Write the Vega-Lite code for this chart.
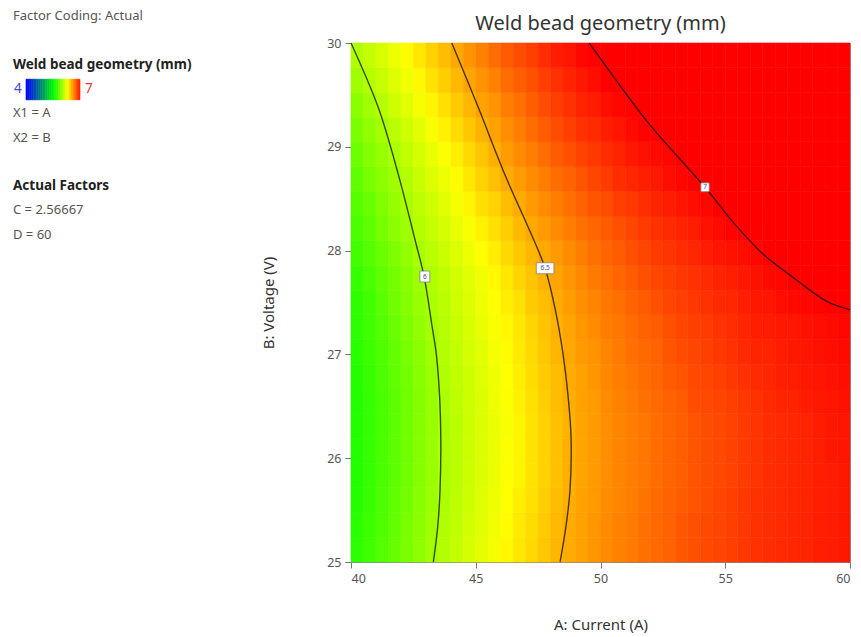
{
  "$schema": "https://vega.github.io/schema/vega-lite/v6.json",
  "padding": {"left": 0, "top": 10, "right": 0, "bottom": 0},
  "spacing": 0,
  "config": {
    "font": "Noto Sans",
    "title": {"font": "Noto Sans"},
    "axis": {"labelFont": "Noto Sans", "titleFont": "Noto Sans", "labelColor": "#555555", "labelFontSize": 12.5, "titleColor": "#333333", "titleFontSize": 15, "titleFontWeight": "normal", "tickColor": "#777777", "domainColor": "#888888", "tickSize": 6, "grid": false}
  },
  "hconcat": [
    {
      "width": 261,
      "height": 519,
      "view": {"stroke": null},
      "layer": [
        {
          "data": {"values": [
            {"v":4.0,"v2":4.1},{"v":4.1,"v2":4.2},{"v":4.2,"v2":4.3},{"v":4.3,"v2":4.4},{"v":4.4,"v2":4.5},{"v":4.5,"v2":4.6},{"v":4.6,"v2":4.7},{"v":4.7,"v2":4.8},{"v":4.8,"v2":4.9},{"v":4.9,"v2":5.0},
            {"v":5.0,"v2":5.1},{"v":5.1,"v2":5.2},{"v":5.2,"v2":5.3},{"v":5.3,"v2":5.4},{"v":5.4,"v2":5.5},{"v":5.5,"v2":5.6},{"v":5.6,"v2":5.7},{"v":5.7,"v2":5.8},{"v":5.8,"v2":5.9},{"v":5.9,"v2":6.0},
            {"v":6.0,"v2":6.1},{"v":6.1,"v2":6.2},{"v":6.2,"v2":6.3},{"v":6.3,"v2":6.4},{"v":6.4,"v2":6.5},{"v":6.5,"v2":6.6},{"v":6.6,"v2":6.7},{"v":6.7,"v2":6.8},{"v":6.8,"v2":6.9},{"v":6.9,"v2":7.0}
          ]},
          "mark": {"type": "rect", "strokeWidth": 0.6},
          "encoding": {
            "x": {"field": "v", "type": "quantitative", "scale": {"domain": [2.5556, 17.0556], "nice": false, "zero": false}, "axis": null},
            "x2": {"field": "v2"},
            "y": {"datum": 2.6, "type": "quantitative", "scale": {"domain": [1.1111, 22.4691], "reverse": true, "nice": false, "zero": false}, "axis": null},
            "y2": {"datum": 3.45},
            "color": {"field": "v", "type": "quantitative", "scale": {"type": "linear", "domain": [4, 5.5, 6.27, 7], "range": ["#0000ff", "#00ff00", "#ffff00", "#ff0000"], "interpolate": "rgb", "clamp": true}, "legend": null},
            "stroke": {"field": "v", "type": "quantitative", "scale": {"type": "linear", "domain": [4, 5.5, 6.27, 7], "range": ["#0000ff", "#00ff00", "#ffff00", "#ff0000"], "interpolate": "rgb", "clamp": true}, "legend": null}
          }
        },
        {
          "data": {"values": [
            {"line": 0, "col": 1.3, "text": "Factor Coding: Actual", "kind": "plain"},
            {"line": 2, "col": 1.3, "text": "Weld bead geometry (mm)", "kind": "bold"},
            {"line": 3, "col": 1.4, "text": "4", "kind": "low"},
            {"line": 3, "col": 8.5, "text": "7", "kind": "high"},
            {"line": 4, "col": 1.3, "text": "X1 = A", "kind": "plain"},
            {"line": 5, "col": 1.3, "text": "X2 = B", "kind": "plain"},
            {"line": 7, "col": 1.3, "text": "Actual Factors", "kind": "bold"},
            {"line": 8, "col": 1.3, "text": "C = 2.56667", "kind": "plain"},
            {"line": 9, "col": 1.3, "text": "D = 60", "kind": "plain"}
          ]},
          "encoding": {
            "x": {"field": "col", "type": "quantitative", "scale": {"domain": [0, 26.1], "nice": false, "zero": false}, "axis": null},
            "y": {"field": "line", "type": "quantitative", "scale": {"domain": [1.1111, 22.4691], "reverse": true, "nice": false, "zero": false}, "axis": null},
            "text": {"field": "text"}
          },
          "layer": [
            {"transform": [{"filter": "datum.kind == 'plain'"}], "mark": {"type": "text", "align": "left", "baseline": "middle", "fontSize": 13, "color": "#555555"}},
            {"transform": [{"filter": "datum.kind == 'bold'"}], "mark": {"type": "text", "align": "left", "baseline": "middle", "fontSize": 13.5, "fontWeight": "bold", "color": "#222222"}},
            {"transform": [{"filter": "datum.kind == 'low'"}], "mark": {"type": "text", "align": "left", "baseline": "middle", "fontSize": 13.5, "color": "#4848d0"}},
            {"transform": [{"filter": "datum.kind == 'high'"}], "mark": {"type": "text", "align": "left", "baseline": "middle", "fontSize": 13.5, "color": "#e03a3a"}}
          ]
        }
      ],
      "resolve": {"scale": {"x": "independent"}}
    },
    {
      "width": 499,
      "height": 519,
      "view": {"stroke": "#999999"},
      "title": {"text": "Weld bead geometry (mm)", "fontSize": 20, "fontWeight": "normal", "color": "#333333", "offset": 3, "anchor": "middle"},
      "layer": [
        {
          "data": {"values": [
{"a":40.25,"b":25,"v":5.63},{"a":40.75,"b":25,"v":5.69},{"a":41.25,"b":25,"v":5.75},{"a":41.75,"b":25,"v":5.81},{"a":42.25,"b":25,"v":5.87},{"a":42.75,"b":25,"v":5.93},{"a":43.25,"b":25,"v":5.99},{"a":43.75,"b":25,"v":6.04},{"a":44.25,"b":25,"v":6.09},{"a":44.75,"b":25,"v":6.14},{"a":45.25,"b":25,"v":6.19},{"a":45.75,"b":25,"v":6.24},{"a":46.25,"b":25,"v":6.29},{"a":46.75,"b":25,"v":6.34},{"a":47.25,"b":25,"v":6.38},{"a":47.75,"b":25,"v":6.43},{"a":48.25,"b":25,"v":6.48},{"a":48.75,"b":25,"v":6.51},{"a":49.25,"b":25,"v":6.54},{"a":49.75,"b":25,"v":6.57},{"a":50.25,"b":25,"v":6.60},{"a":50.75,"b":25,"v":6.63},{"a":51.25,"b":25,"v":6.65},{"a":51.75,"b":25,"v":6.68},{"a":52.25,"b":25,"v":6.70},{"a":52.75,"b":25,"v":6.72},{"a":53.25,"b":25,"v":6.75},{"a":53.75,"b":25,"v":6.77},{"a":54.25,"b":25,"v":6.79},{"a":54.75,"b":25,"v":6.80},{"a":55.25,"b":25,"v":6.82},{"a":55.75,"b":25,"v":6.84},{"a":56.25,"b":25,"v":6.86},{"a":56.75,"b":25,"v":6.87},{"a":57.25,"b":25,"v":6.88},{"a":57.75,"b":25,"v":6.89},{"a":58.25,"b":25,"v":6.90},{"a":58.75,"b":25,"v":6.91},{"a":59.25,"b":25,"v":6.92},{"a":59.75,"b":25,"v":6.93},
{"a":40.25,"b":25.25,"v":5.62},{"a":40.75,"b":25.25,"v":5.68},{"a":41.25,"b":25.25,"v":5.74},{"a":41.75,"b":25.25,"v":5.80},{"a":42.25,"b":25.25,"v":5.86},{"a":42.75,"b":25.25,"v":5.92},{"a":43.25,"b":25.25,"v":5.98},{"a":43.75,"b":25.25,"v":6.03},{"a":44.25,"b":25.25,"v":6.08},{"a":44.75,"b":25.25,"v":6.13},{"a":45.25,"b":25.25,"v":6.18},{"a":45.75,"b":25.25,"v":6.23},{"a":46.25,"b":25.25,"v":6.28},{"a":46.75,"b":25.25,"v":6.33},{"a":47.25,"b":25.25,"v":6.37},{"a":47.75,"b":25.25,"v":6.42},{"a":48.25,"b":25.25,"v":6.47},{"a":48.75,"b":25.25,"v":6.51},{"a":49.25,"b":25.25,"v":6.54},{"a":49.75,"b":25.25,"v":6.57},{"a":50.25,"b":25.25,"v":6.60},{"a":50.75,"b":25.25,"v":6.63},{"a":51.25,"b":25.25,"v":6.65},{"a":51.75,"b":25.25,"v":6.68},{"a":52.25,"b":25.25,"v":6.70},{"a":52.75,"b":25.25,"v":6.72},{"a":53.25,"b":25.25,"v":6.75},{"a":53.75,"b":25.25,"v":6.77},{"a":54.25,"b":25.25,"v":6.79},{"a":54.75,"b":25.25,"v":6.80},{"a":55.25,"b":25.25,"v":6.82},{"a":55.75,"b":25.25,"v":6.84},{"a":56.25,"b":25.25,"v":6.86},{"a":56.75,"b":25.25,"v":6.87},{"a":57.25,"b":25.25,"v":6.88},{"a":57.75,"b":25.25,"v":6.89},{"a":58.25,"b":25.25,"v":6.90},{"a":58.75,"b":25.25,"v":6.91},{"a":59.25,"b":25.25,"v":6.92},{"a":59.75,"b":25.25,"v":6.93},
{"a":40.25,"b":25.5,"v":5.61},{"a":40.75,"b":25.5,"v":5.67},{"a":41.25,"b":25.5,"v":5.73},{"a":41.75,"b":25.5,"v":5.79},{"a":42.25,"b":25.5,"v":5.85},{"a":42.75,"b":25.5,"v":5.91},{"a":43.25,"b":25.5,"v":5.97},{"a":43.75,"b":25.5,"v":6.02},{"a":44.25,"b":25.5,"v":6.07},{"a":44.75,"b":25.5,"v":6.12},{"a":45.25,"b":25.5,"v":6.17},{"a":45.75,"b":25.5,"v":6.22},{"a":46.25,"b":25.5,"v":6.27},{"a":46.75,"b":25.5,"v":6.32},{"a":47.25,"b":25.5,"v":6.36},{"a":47.75,"b":25.5,"v":6.41},{"a":48.25,"b":25.5,"v":6.46},{"a":48.75,"b":25.5,"v":6.50},{"a":49.25,"b":25.5,"v":6.54},{"a":49.75,"b":25.5,"v":6.56},{"a":50.25,"b":25.5,"v":6.60},{"a":50.75,"b":25.5,"v":6.62},{"a":51.25,"b":25.5,"v":6.64},{"a":51.75,"b":25.5,"v":6.67},{"a":52.25,"b":25.5,"v":6.70},{"a":52.75,"b":25.5,"v":6.72},{"a":53.25,"b":25.5,"v":6.74},{"a":53.75,"b":25.5,"v":6.76},{"a":54.25,"b":25.5,"v":6.78},{"a":54.75,"b":25.5,"v":6.80},{"a":55.25,"b":25.5,"v":6.82},{"a":55.75,"b":25.5,"v":6.84},{"a":56.25,"b":25.5,"v":6.86},{"a":56.75,"b":25.5,"v":6.87},{"a":57.25,"b":25.5,"v":6.88},{"a":57.75,"b":25.5,"v":6.89},{"a":58.25,"b":25.5,"v":6.90},{"a":58.75,"b":25.5,"v":6.91},{"a":59.25,"b":25.5,"v":6.92},{"a":59.75,"b":25.5,"v":6.93},
{"a":40.25,"b":25.75,"v":5.60},{"a":40.75,"b":25.75,"v":5.66},{"a":41.25,"b":25.75,"v":5.72},{"a":41.75,"b":25.75,"v":5.78},{"a":42.25,"b":25.75,"v":5.84},{"a":42.75,"b":25.75,"v":5.90},{"a":43.25,"b":25.75,"v":5.96},{"a":43.75,"b":25.75,"v":6.02},{"a":44.25,"b":25.75,"v":6.06},{"a":44.75,"b":25.75,"v":6.11},{"a":45.25,"b":25.75,"v":6.16},{"a":45.75,"b":25.75,"v":6.21},{"a":46.25,"b":25.75,"v":6.26},{"a":46.75,"b":25.75,"v":6.30},{"a":47.25,"b":25.75,"v":6.35},{"a":47.75,"b":25.75,"v":6.40},{"a":48.25,"b":25.75,"v":6.45},{"a":48.75,"b":25.75,"v":6.50},{"a":49.25,"b":25.75,"v":6.53},{"a":49.75,"b":25.75,"v":6.56},{"a":50.25,"b":25.75,"v":6.59},{"a":50.75,"b":25.75,"v":6.62},{"a":51.25,"b":25.75,"v":6.64},{"a":51.75,"b":25.75,"v":6.66},{"a":52.25,"b":25.75,"v":6.69},{"a":52.75,"b":25.75,"v":6.71},{"a":53.25,"b":25.75,"v":6.73},{"a":53.75,"b":25.75,"v":6.76},{"a":54.25,"b":25.75,"v":6.78},{"a":54.75,"b":25.75,"v":6.79},{"a":55.25,"b":25.75,"v":6.81},{"a":55.75,"b":25.75,"v":6.83},{"a":56.25,"b":25.75,"v":6.85},{"a":56.75,"b":25.75,"v":6.87},{"a":57.25,"b":25.75,"v":6.88},{"a":57.75,"b":25.75,"v":6.89},{"a":58.25,"b":25.75,"v":6.90},{"a":58.75,"b":25.75,"v":6.91},{"a":59.25,"b":25.75,"v":6.92},{"a":59.75,"b":25.75,"v":6.93},
{"a":40.25,"b":26,"v":5.60},{"a":40.75,"b":26,"v":5.66},{"a":41.25,"b":26,"v":5.72},{"a":41.75,"b":26,"v":5.78},{"a":42.25,"b":26,"v":5.84},{"a":42.75,"b":26,"v":5.90},{"a":43.25,"b":26,"v":5.96},{"a":43.75,"b":26,"v":6.02},{"a":44.25,"b":26,"v":6.06},{"a":44.75,"b":26,"v":6.11},{"a":45.25,"b":26,"v":6.16},{"a":45.75,"b":26,"v":6.21},{"a":46.25,"b":26,"v":6.26},{"a":46.75,"b":26,"v":6.30},{"a":47.25,"b":26,"v":6.35},{"a":47.75,"b":26,"v":6.40},{"a":48.25,"b":26,"v":6.45},{"a":48.75,"b":26,"v":6.50},{"a":49.25,"b":26,"v":6.53},{"a":49.75,"b":26,"v":6.56},{"a":50.25,"b":26,"v":6.59},{"a":50.75,"b":26,"v":6.62},{"a":51.25,"b":26,"v":6.64},{"a":51.75,"b":26,"v":6.66},{"a":52.25,"b":26,"v":6.69},{"a":52.75,"b":26,"v":6.71},{"a":53.25,"b":26,"v":6.73},{"a":53.75,"b":26,"v":6.76},{"a":54.25,"b":26,"v":6.78},{"a":54.75,"b":26,"v":6.79},{"a":55.25,"b":26,"v":6.81},{"a":55.75,"b":26,"v":6.83},{"a":56.25,"b":26,"v":6.85},{"a":56.75,"b":26,"v":6.87},{"a":57.25,"b":26,"v":6.88},{"a":57.75,"b":26,"v":6.89},{"a":58.25,"b":26,"v":6.90},{"a":58.75,"b":26,"v":6.91},{"a":59.25,"b":26,"v":6.93},{"a":59.75,"b":26,"v":6.94},
{"a":40.25,"b":26.25,"v":5.60},{"a":40.75,"b":26.25,"v":5.66},{"a":41.25,"b":26.25,"v":5.72},{"a":41.75,"b":26.25,"v":5.78},{"a":42.25,"b":26.25,"v":5.84},{"a":42.75,"b":26.25,"v":5.90},{"a":43.25,"b":26.25,"v":5.96},{"a":43.75,"b":26.25,"v":6.01},{"a":44.25,"b":26.25,"v":6.06},{"a":44.75,"b":26.25,"v":6.11},{"a":45.25,"b":26.25,"v":6.16},{"a":45.75,"b":26.25,"v":6.21},{"a":46.25,"b":26.25,"v":6.25},{"a":46.75,"b":26.25,"v":6.30},{"a":47.25,"b":26.25,"v":6.35},{"a":47.75,"b":26.25,"v":6.40},{"a":48.25,"b":26.25,"v":6.45},{"a":48.75,"b":26.25,"v":6.49},{"a":49.25,"b":26.25,"v":6.53},{"a":49.75,"b":26.25,"v":6.56},{"a":50.25,"b":26.25,"v":6.59},{"a":50.75,"b":26.25,"v":6.62},{"a":51.25,"b":26.25,"v":6.64},{"a":51.75,"b":26.25,"v":6.66},{"a":52.25,"b":26.25,"v":6.69},{"a":52.75,"b":26.25,"v":6.71},{"a":53.25,"b":26.25,"v":6.73},{"a":53.75,"b":26.25,"v":6.76},{"a":54.25,"b":26.25,"v":6.78},{"a":54.75,"b":26.25,"v":6.79},{"a":55.25,"b":26.25,"v":6.81},{"a":55.75,"b":26.25,"v":6.83},{"a":56.25,"b":26.25,"v":6.85},{"a":56.75,"b":26.25,"v":6.87},{"a":57.25,"b":26.25,"v":6.88},{"a":57.75,"b":26.25,"v":6.89},{"a":58.25,"b":26.25,"v":6.90},{"a":58.75,"b":26.25,"v":6.92},{"a":59.25,"b":26.25,"v":6.93},{"a":59.75,"b":26.25,"v":6.94},
{"a":40.25,"b":26.5,"v":5.60},{"a":40.75,"b":26.5,"v":5.66},{"a":41.25,"b":26.5,"v":5.72},{"a":41.75,"b":26.5,"v":5.78},{"a":42.25,"b":26.5,"v":5.84},{"a":42.75,"b":26.5,"v":5.90},{"a":43.25,"b":26.5,"v":5.96},{"a":43.75,"b":26.5,"v":6.02},{"a":44.25,"b":26.5,"v":6.07},{"a":44.75,"b":26.5,"v":6.12},{"a":45.25,"b":26.5,"v":6.16},{"a":45.75,"b":26.5,"v":6.22},{"a":46.25,"b":26.5,"v":6.26},{"a":46.75,"b":26.5,"v":6.31},{"a":47.25,"b":26.5,"v":6.36},{"a":47.75,"b":26.5,"v":6.41},{"a":48.25,"b":26.5,"v":6.46},{"a":48.75,"b":26.5,"v":6.50},{"a":49.25,"b":26.5,"v":6.54},{"a":49.75,"b":26.5,"v":6.56},{"a":50.25,"b":26.5,"v":6.60},{"a":50.75,"b":26.5,"v":6.63},{"a":51.25,"b":26.5,"v":6.65},{"a":51.75,"b":26.5,"v":6.68},{"a":52.25,"b":26.5,"v":6.70},{"a":52.75,"b":26.5,"v":6.72},{"a":53.25,"b":26.5,"v":6.74},{"a":53.75,"b":26.5,"v":6.78},{"a":54.25,"b":26.5,"v":6.79},{"a":54.75,"b":26.5,"v":6.80},{"a":55.25,"b":26.5,"v":6.82},{"a":55.75,"b":26.5,"v":6.84},{"a":56.25,"b":26.5,"v":6.86},{"a":56.75,"b":26.5,"v":6.88},{"a":57.25,"b":26.5,"v":6.90},{"a":57.75,"b":26.5,"v":6.90},{"a":58.25,"b":26.5,"v":6.92},{"a":58.75,"b":26.5,"v":6.93},{"a":59.25,"b":26.5,"v":6.94},{"a":59.75,"b":26.5,"v":6.95},
{"a":40.25,"b":26.75,"v":5.61},{"a":40.75,"b":26.75,"v":5.67},{"a":41.25,"b":26.75,"v":5.73},{"a":41.75,"b":26.75,"v":5.79},{"a":42.25,"b":26.75,"v":5.85},{"a":42.75,"b":26.75,"v":5.91},{"a":43.25,"b":26.75,"v":5.97},{"a":43.75,"b":26.75,"v":6.03},{"a":44.25,"b":26.75,"v":6.08},{"a":44.75,"b":26.75,"v":6.12},{"a":45.25,"b":26.75,"v":6.17},{"a":45.75,"b":26.75,"v":6.22},{"a":46.25,"b":26.75,"v":6.27},{"a":46.75,"b":26.75,"v":6.32},{"a":47.25,"b":26.75,"v":6.37},{"a":47.75,"b":26.75,"v":6.42},{"a":48.25,"b":26.75,"v":6.46},{"a":48.75,"b":26.75,"v":6.51},{"a":49.25,"b":26.75,"v":6.54},{"a":49.75,"b":26.75,"v":6.57},{"a":50.25,"b":26.75,"v":6.61},{"a":50.75,"b":26.75,"v":6.64},{"a":51.25,"b":26.75,"v":6.66},{"a":51.75,"b":26.75,"v":6.69},{"a":52.25,"b":26.75,"v":6.71},{"a":52.75,"b":26.75,"v":6.74},{"a":53.25,"b":26.75,"v":6.76},{"a":53.75,"b":26.75,"v":6.79},{"a":54.25,"b":26.75,"v":6.80},{"a":54.75,"b":26.75,"v":6.82},{"a":55.25,"b":26.75,"v":6.84},{"a":55.75,"b":26.75,"v":6.86},{"a":56.25,"b":26.75,"v":6.88},{"a":56.75,"b":26.75,"v":6.89},{"a":57.25,"b":26.75,"v":6.91},{"a":57.75,"b":26.75,"v":6.92},{"a":58.25,"b":26.75,"v":6.93},{"a":58.75,"b":26.75,"v":6.94},{"a":59.25,"b":26.75,"v":6.95},{"a":59.75,"b":26.75,"v":6.96},
{"a":40.25,"b":27,"v":5.62},{"a":40.75,"b":27,"v":5.68},{"a":41.25,"b":27,"v":5.74},{"a":41.75,"b":27,"v":5.80},{"a":42.25,"b":27,"v":5.86},{"a":42.75,"b":27,"v":5.92},{"a":43.25,"b":27,"v":5.98},{"a":43.75,"b":27,"v":6.04},{"a":44.25,"b":27,"v":6.09},{"a":44.75,"b":27,"v":6.14},{"a":45.25,"b":27,"v":6.18},{"a":45.75,"b":27,"v":6.24},{"a":46.25,"b":27,"v":6.28},{"a":46.75,"b":27,"v":6.33},{"a":47.25,"b":27,"v":6.38},{"a":47.75,"b":27,"v":6.43},{"a":48.25,"b":27,"v":6.48},{"a":48.75,"b":27,"v":6.52},{"a":49.25,"b":27,"v":6.56},{"a":49.75,"b":27,"v":6.58},{"a":50.25,"b":27,"v":6.62},{"a":50.75,"b":27,"v":6.65},{"a":51.25,"b":27,"v":6.68},{"a":51.75,"b":27,"v":6.70},{"a":52.25,"b":27,"v":6.72},{"a":52.75,"b":27,"v":6.76},{"a":53.25,"b":27,"v":6.78},{"a":53.75,"b":27,"v":6.80},{"a":54.25,"b":27,"v":6.82},{"a":54.75,"b":27,"v":6.84},{"a":55.25,"b":27,"v":6.86},{"a":55.75,"b":27,"v":6.88},{"a":56.25,"b":27,"v":6.90},{"a":56.75,"b":27,"v":6.90},{"a":57.25,"b":27,"v":6.92},{"a":57.75,"b":27,"v":6.93},{"a":58.25,"b":27,"v":6.94},{"a":58.75,"b":27,"v":6.95},{"a":59.25,"b":27,"v":6.96},{"a":59.75,"b":27,"v":6.97},
{"a":40.25,"b":27.25,"v":5.63},{"a":40.75,"b":27.25,"v":5.69},{"a":41.25,"b":27.25,"v":5.75},{"a":41.75,"b":27.25,"v":5.82},{"a":42.25,"b":27.25,"v":5.88},{"a":42.75,"b":27.25,"v":5.94},{"a":43.25,"b":27.25,"v":6.00},{"a":43.75,"b":27.25,"v":6.05},{"a":44.25,"b":27.25,"v":6.10},{"a":44.75,"b":27.25,"v":6.15},{"a":45.25,"b":27.25,"v":6.20},{"a":45.75,"b":27.25,"v":6.25},{"a":46.25,"b":27.25,"v":6.29},{"a":46.75,"b":27.25,"v":6.34},{"a":47.25,"b":27.25,"v":6.39},{"a":47.75,"b":27.25,"v":6.44},{"a":48.25,"b":27.25,"v":6.49},{"a":48.75,"b":27.25,"v":6.53},{"a":49.25,"b":27.25,"v":6.57},{"a":49.75,"b":27.25,"v":6.60},{"a":50.25,"b":27.25,"v":6.64},{"a":50.75,"b":27.25,"v":6.66},{"a":51.25,"b":27.25,"v":6.69},{"a":51.75,"b":27.25,"v":6.72},{"a":52.25,"b":27.25,"v":6.74},{"a":52.75,"b":27.25,"v":6.77},{"a":53.25,"b":27.25,"v":6.80},{"a":53.75,"b":27.25,"v":6.82},{"a":54.25,"b":27.25,"v":6.83},{"a":54.75,"b":27.25,"v":6.85},{"a":55.25,"b":27.25,"v":6.87},{"a":55.75,"b":27.25,"v":6.89},{"a":56.25,"b":27.25,"v":6.91},{"a":56.75,"b":27.25,"v":6.92},{"a":57.25,"b":27.25,"v":6.93},{"a":57.75,"b":27.25,"v":6.94},{"a":58.25,"b":27.25,"v":6.95},{"a":58.75,"b":27.25,"v":6.96},{"a":59.25,"b":27.25,"v":6.97},{"a":59.75,"b":27.25,"v":6.98},
{"a":40.25,"b":27.5,"v":5.64},{"a":40.75,"b":27.5,"v":5.70},{"a":41.25,"b":27.5,"v":5.77},{"a":41.75,"b":27.5,"v":5.84},{"a":42.25,"b":27.5,"v":5.90},{"a":42.75,"b":27.5,"v":5.96},{"a":43.25,"b":27.5,"v":6.02},{"a":43.75,"b":27.5,"v":6.06},{"a":44.25,"b":27.5,"v":6.12},{"a":44.75,"b":27.5,"v":6.16},{"a":45.25,"b":27.5,"v":6.22},{"a":45.75,"b":27.5,"v":6.27},{"a":46.25,"b":27.5,"v":6.32},{"a":46.75,"b":27.5,"v":6.36},{"a":47.25,"b":27.5,"v":6.42},{"a":47.75,"b":27.5,"v":6.46},{"a":48.25,"b":27.5,"v":6.51},{"a":48.75,"b":27.5,"v":6.55},{"a":49.25,"b":27.5,"v":6.59},{"a":49.75,"b":27.5,"v":6.62},{"a":50.25,"b":27.5,"v":6.66},{"a":50.75,"b":27.5,"v":6.68},{"a":51.25,"b":27.5,"v":6.72},{"a":51.75,"b":27.5,"v":6.74},{"a":52.25,"b":27.5,"v":6.77},{"a":52.75,"b":27.5,"v":6.80},{"a":53.25,"b":27.5,"v":6.82},{"a":53.75,"b":27.5,"v":6.84},{"a":54.25,"b":27.5,"v":6.86},{"a":54.75,"b":27.5,"v":6.88},{"a":55.25,"b":27.5,"v":6.89},{"a":55.75,"b":27.5,"v":6.91},{"a":56.25,"b":27.5,"v":6.93},{"a":56.75,"b":27.5,"v":6.94},{"a":57.25,"b":27.5,"v":6.96},{"a":57.75,"b":27.5,"v":6.97},{"a":58.25,"b":27.5,"v":6.98},{"a":58.75,"b":27.5,"v":6.99},{"a":59.25,"b":27.5,"v":7.00},{"a":59.75,"b":27.5,"v":7.01},
{"a":40.25,"b":27.75,"v":5.66},{"a":40.75,"b":27.75,"v":5.72},{"a":41.25,"b":27.75,"v":5.79},{"a":41.75,"b":27.75,"v":5.85},{"a":42.25,"b":27.75,"v":5.91},{"a":42.75,"b":27.75,"v":5.98},{"a":43.25,"b":27.75,"v":6.03},{"a":43.75,"b":27.75,"v":6.08},{"a":44.25,"b":27.75,"v":6.13},{"a":44.75,"b":27.75,"v":6.18},{"a":45.25,"b":27.75,"v":6.23},{"a":45.75,"b":27.75,"v":6.29},{"a":46.25,"b":27.75,"v":6.34},{"a":46.75,"b":27.75,"v":6.39},{"a":47.25,"b":27.75,"v":6.44},{"a":47.75,"b":27.75,"v":6.49},{"a":48.25,"b":27.75,"v":6.53},{"a":48.75,"b":27.75,"v":6.57},{"a":49.25,"b":27.75,"v":6.61},{"a":49.75,"b":27.75,"v":6.65},{"a":50.25,"b":27.75,"v":6.68},{"a":50.75,"b":27.75,"v":6.71},{"a":51.25,"b":27.75,"v":6.74},{"a":51.75,"b":27.75,"v":6.77},{"a":52.25,"b":27.75,"v":6.80},{"a":52.75,"b":27.75,"v":6.82},{"a":53.25,"b":27.75,"v":6.84},{"a":53.75,"b":27.75,"v":6.86},{"a":54.25,"b":27.75,"v":6.88},{"a":54.75,"b":27.75,"v":6.90},{"a":55.25,"b":27.75,"v":6.91},{"a":55.75,"b":27.75,"v":6.93},{"a":56.25,"b":27.75,"v":6.95},{"a":56.75,"b":27.75,"v":6.97},{"a":57.25,"b":27.75,"v":6.98},{"a":57.75,"b":27.75,"v":7.00},{"a":58.25,"b":27.75,"v":7.01},{"a":58.75,"b":27.75,"v":7.02},{"a":59.25,"b":27.75,"v":7.03},{"a":59.75,"b":27.75,"v":7.04},
{"a":40.25,"b":28,"v":5.70},{"a":40.75,"b":28,"v":5.76},{"a":41.25,"b":28,"v":5.82},{"a":41.75,"b":28,"v":5.88},{"a":42.25,"b":28,"v":5.94},{"a":42.75,"b":28,"v":6.01},{"a":43.25,"b":28,"v":6.06},{"a":43.75,"b":28,"v":6.11},{"a":44.25,"b":28,"v":6.16},{"a":44.75,"b":28,"v":6.22},{"a":45.25,"b":28,"v":6.27},{"a":45.75,"b":28,"v":6.32},{"a":46.25,"b":28,"v":6.38},{"a":46.75,"b":28,"v":6.43},{"a":47.25,"b":28,"v":6.48},{"a":47.75,"b":28,"v":6.52},{"a":48.25,"b":28,"v":6.56},{"a":48.75,"b":28,"v":6.60},{"a":49.25,"b":28,"v":6.64},{"a":49.75,"b":28,"v":6.68},{"a":50.25,"b":28,"v":6.71},{"a":50.75,"b":28,"v":6.74},{"a":51.25,"b":28,"v":6.77},{"a":51.75,"b":28,"v":6.80},{"a":52.25,"b":28,"v":6.83},{"a":52.75,"b":28,"v":6.85},{"a":53.25,"b":28,"v":6.87},{"a":53.75,"b":28,"v":6.89},{"a":54.25,"b":28,"v":6.92},{"a":54.75,"b":28,"v":6.94},{"a":55.25,"b":28,"v":6.95},{"a":55.75,"b":28,"v":6.96},{"a":56.25,"b":28,"v":6.98},{"a":56.75,"b":28,"v":7.00},{"a":57.25,"b":28,"v":7.00},{"a":57.75,"b":28,"v":7.02},{"a":58.25,"b":28,"v":7.03},{"a":58.75,"b":28,"v":7.04},{"a":59.25,"b":28,"v":7.05},{"a":59.75,"b":28,"v":7.06},
{"a":40.25,"b":28.25,"v":5.73},{"a":40.75,"b":28.25,"v":5.79},{"a":41.25,"b":28.25,"v":5.86},{"a":41.75,"b":28.25,"v":5.92},{"a":42.25,"b":28.25,"v":5.98},{"a":42.75,"b":28.25,"v":6.04},{"a":43.25,"b":28.25,"v":6.09},{"a":43.75,"b":28.25,"v":6.14},{"a":44.25,"b":28.25,"v":6.20},{"a":44.75,"b":28.25,"v":6.25},{"a":45.25,"b":28.25,"v":6.31},{"a":45.75,"b":28.25,"v":6.36},{"a":46.25,"b":28.25,"v":6.41},{"a":46.75,"b":28.25,"v":6.47},{"a":47.25,"b":28.25,"v":6.52},{"a":47.75,"b":28.25,"v":6.56},{"a":48.25,"b":28.25,"v":6.60},{"a":48.75,"b":28.25,"v":6.64},{"a":49.25,"b":28.25,"v":6.68},{"a":49.75,"b":28.25,"v":6.71},{"a":50.25,"b":28.25,"v":6.74},{"a":50.75,"b":28.25,"v":6.77},{"a":51.25,"b":28.25,"v":6.80},{"a":51.75,"b":28.25,"v":6.83},{"a":52.25,"b":28.25,"v":6.86},{"a":52.75,"b":28.25,"v":6.88},{"a":53.25,"b":28.25,"v":6.90},{"a":53.75,"b":28.25,"v":6.92},{"a":54.25,"b":28.25,"v":6.95},{"a":54.75,"b":28.25,"v":6.97},{"a":55.25,"b":28.25,"v":6.99},{"a":55.75,"b":28.25,"v":7.00},{"a":56.25,"b":28.25,"v":7.01},{"a":56.75,"b":28.25,"v":7.02},{"a":57.25,"b":28.25,"v":7.03},{"a":57.75,"b":28.25,"v":7.04},{"a":58.25,"b":28.25,"v":7.05},{"a":58.75,"b":28.25,"v":7.06},{"a":59.25,"b":28.25,"v":7.07},{"a":59.75,"b":28.25,"v":7.08},
{"a":40.25,"b":28.5,"v":5.76},{"a":40.75,"b":28.5,"v":5.82},{"a":41.25,"b":28.5,"v":5.89},{"a":41.75,"b":28.5,"v":5.95},{"a":42.25,"b":28.5,"v":6.01},{"a":42.75,"b":28.5,"v":6.07},{"a":43.25,"b":28.5,"v":6.12},{"a":43.75,"b":28.5,"v":6.18},{"a":44.25,"b":28.5,"v":6.24},{"a":44.75,"b":28.5,"v":6.30},{"a":45.25,"b":28.5,"v":6.36},{"a":45.75,"b":28.5,"v":6.40},{"a":46.25,"b":28.5,"v":6.46},{"a":46.75,"b":28.5,"v":6.51},{"a":47.25,"b":28.5,"v":6.56},{"a":47.75,"b":28.5,"v":6.60},{"a":48.25,"b":28.5,"v":6.64},{"a":48.75,"b":28.5,"v":6.68},{"a":49.25,"b":28.5,"v":6.72},{"a":49.75,"b":28.5,"v":6.76},{"a":50.25,"b":28.5,"v":6.78},{"a":50.75,"b":28.5,"v":6.82},{"a":51.25,"b":28.5,"v":6.84},{"a":51.75,"b":28.5,"v":6.87},{"a":52.25,"b":28.5,"v":6.90},{"a":52.75,"b":28.5,"v":6.92},{"a":53.25,"b":28.5,"v":6.94},{"a":53.75,"b":28.5,"v":6.96},{"a":54.25,"b":28.5,"v":6.98},{"a":54.75,"b":28.5,"v":7.00},{"a":55.25,"b":28.5,"v":7.00},{"a":55.75,"b":28.5,"v":7.02},{"a":56.25,"b":28.5,"v":7.02},{"a":56.75,"b":28.5,"v":7.04},{"a":57.25,"b":28.5,"v":7.04},{"a":57.75,"b":28.5,"v":7.05},{"a":58.25,"b":28.5,"v":7.06},{"a":58.75,"b":28.5,"v":7.07},{"a":59.25,"b":28.5,"v":7.08},{"a":59.75,"b":28.5,"v":7.09},
{"a":40.25,"b":28.75,"v":5.79},{"a":40.75,"b":28.75,"v":5.86},{"a":41.25,"b":28.75,"v":5.92},{"a":41.75,"b":28.75,"v":5.98},{"a":42.25,"b":28.75,"v":6.04},{"a":42.75,"b":28.75,"v":6.10},{"a":43.25,"b":28.75,"v":6.16},{"a":43.75,"b":28.75,"v":6.22},{"a":44.25,"b":28.75,"v":6.28},{"a":44.75,"b":28.75,"v":6.34},{"a":45.25,"b":28.75,"v":6.40},{"a":45.75,"b":28.75,"v":6.45},{"a":46.25,"b":28.75,"v":6.51},{"a":46.75,"b":28.75,"v":6.55},{"a":47.25,"b":28.75,"v":6.60},{"a":47.75,"b":28.75,"v":6.64},{"a":48.25,"b":28.75,"v":6.69},{"a":48.75,"b":28.75,"v":6.72},{"a":49.25,"b":28.75,"v":6.76},{"a":49.75,"b":28.75,"v":6.80},{"a":50.25,"b":28.75,"v":6.83},{"a":50.75,"b":28.75,"v":6.87},{"a":51.25,"b":28.75,"v":6.89},{"a":51.75,"b":28.75,"v":6.91},{"a":52.25,"b":28.75,"v":6.93},{"a":52.75,"b":28.75,"v":6.96},{"a":53.25,"b":28.75,"v":6.98},{"a":53.75,"b":28.75,"v":7.00},{"a":54.25,"b":28.75,"v":7.01},{"a":54.75,"b":28.75,"v":7.02},{"a":55.25,"b":28.75,"v":7.02},{"a":55.75,"b":28.75,"v":7.03},{"a":56.25,"b":28.75,"v":7.04},{"a":56.75,"b":28.75,"v":7.05},{"a":57.25,"b":28.75,"v":7.06},{"a":57.75,"b":28.75,"v":7.06},{"a":58.25,"b":28.75,"v":7.07},{"a":58.75,"b":28.75,"v":7.08},{"a":59.25,"b":28.75,"v":7.09},{"a":59.75,"b":28.75,"v":7.10},
{"a":40.25,"b":29,"v":5.83},{"a":40.75,"b":29,"v":5.90},{"a":41.25,"b":29,"v":5.96},{"a":41.75,"b":29,"v":6.02},{"a":42.25,"b":29,"v":6.08},{"a":42.75,"b":29,"v":6.14},{"a":43.25,"b":29,"v":6.20},{"a":43.75,"b":29,"v":6.26},{"a":44.25,"b":29,"v":6.32},{"a":44.75,"b":29,"v":6.38},{"a":45.25,"b":29,"v":6.44},{"a":45.75,"b":29,"v":6.50},{"a":46.25,"b":29,"v":6.55},{"a":46.75,"b":29,"v":6.60},{"a":47.25,"b":29,"v":6.64},{"a":47.75,"b":29,"v":6.69},{"a":48.25,"b":29,"v":6.74},{"a":48.75,"b":29,"v":6.77},{"a":49.25,"b":29,"v":6.81},{"a":49.75,"b":29,"v":6.84},{"a":50.25,"b":29,"v":6.87},{"a":50.75,"b":29,"v":6.90},{"a":51.25,"b":29,"v":6.93},{"a":51.75,"b":29,"v":6.95},{"a":52.25,"b":29,"v":6.97},{"a":52.75,"b":29,"v":6.98},{"a":53.25,"b":29,"v":7.00},{"a":53.75,"b":29,"v":7.02},{"a":54.25,"b":29,"v":7.02},{"a":54.75,"b":29,"v":7.03},{"a":55.25,"b":29,"v":7.04},{"a":55.75,"b":29,"v":7.04},{"a":56.25,"b":29,"v":7.06},{"a":56.75,"b":29,"v":7.06},{"a":57.25,"b":29,"v":7.07},{"a":57.75,"b":29,"v":7.08},{"a":58.25,"b":29,"v":7.08},{"a":58.75,"b":29,"v":7.09},{"a":59.25,"b":29,"v":7.10},{"a":59.75,"b":29,"v":7.11},
{"a":40.25,"b":29.25,"v":5.87},{"a":40.75,"b":29.25,"v":5.94},{"a":41.25,"b":29.25,"v":6.00},{"a":41.75,"b":29.25,"v":6.06},{"a":42.25,"b":29.25,"v":6.12},{"a":42.75,"b":29.25,"v":6.18},{"a":43.25,"b":29.25,"v":6.25},{"a":43.75,"b":29.25,"v":6.31},{"a":44.25,"b":29.25,"v":6.37},{"a":44.75,"b":29.25,"v":6.43},{"a":45.25,"b":29.25,"v":6.49},{"a":45.75,"b":29.25,"v":6.54},{"a":46.25,"b":29.25,"v":6.59},{"a":46.75,"b":29.25,"v":6.64},{"a":47.25,"b":29.25,"v":6.69},{"a":47.75,"b":29.25,"v":6.74},{"a":48.25,"b":29.25,"v":6.78},{"a":48.75,"b":29.25,"v":6.82},{"a":49.25,"b":29.25,"v":6.86},{"a":49.75,"b":29.25,"v":6.88},{"a":50.25,"b":29.25,"v":6.91},{"a":50.75,"b":29.25,"v":6.94},{"a":51.25,"b":29.25,"v":6.97},{"a":51.75,"b":29.25,"v":6.99},{"a":52.25,"b":29.25,"v":7.01},{"a":52.75,"b":29.25,"v":7.01},{"a":53.25,"b":29.25,"v":7.02},{"a":53.75,"b":29.25,"v":7.03},{"a":54.25,"b":29.25,"v":7.04},{"a":54.75,"b":29.25,"v":7.04},{"a":55.25,"b":29.25,"v":7.05},{"a":55.75,"b":29.25,"v":7.06},{"a":56.25,"b":29.25,"v":7.07},{"a":56.75,"b":29.25,"v":7.07},{"a":57.25,"b":29.25,"v":7.08},{"a":57.75,"b":29.25,"v":7.09},{"a":58.25,"b":29.25,"v":7.10},{"a":58.75,"b":29.25,"v":7.10},{"a":59.25,"b":29.25,"v":7.11},{"a":59.75,"b":29.25,"v":7.12},
{"a":40.25,"b":29.5,"v":5.92},{"a":40.75,"b":29.5,"v":5.99},{"a":41.25,"b":29.5,"v":6.05},{"a":41.75,"b":29.5,"v":6.12},{"a":42.25,"b":29.5,"v":6.18},{"a":42.75,"b":29.5,"v":6.24},{"a":43.25,"b":29.5,"v":6.30},{"a":43.75,"b":29.5,"v":6.36},{"a":44.25,"b":29.5,"v":6.42},{"a":44.75,"b":29.5,"v":6.48},{"a":45.25,"b":29.5,"v":6.54},{"a":45.75,"b":29.5,"v":6.58},{"a":46.25,"b":29.5,"v":6.64},{"a":46.75,"b":29.5,"v":6.68},{"a":47.25,"b":29.5,"v":6.73},{"a":47.75,"b":29.5,"v":6.78},{"a":48.25,"b":29.5,"v":6.82},{"a":48.75,"b":29.5,"v":6.86},{"a":49.25,"b":29.5,"v":6.90},{"a":49.75,"b":29.5,"v":6.92},{"a":50.25,"b":29.5,"v":6.96},{"a":50.75,"b":29.5,"v":6.98},{"a":51.25,"b":29.5,"v":6.99},{"a":51.75,"b":29.5,"v":7.00},{"a":52.25,"b":29.5,"v":7.02},{"a":52.75,"b":29.5,"v":7.02},{"a":53.25,"b":29.5,"v":7.03},{"a":53.75,"b":29.5,"v":7.04},{"a":54.25,"b":29.5,"v":7.05},{"a":54.75,"b":29.5,"v":7.06},{"a":55.25,"b":29.5,"v":7.06},{"a":55.75,"b":29.5,"v":7.07},{"a":56.25,"b":29.5,"v":7.08},{"a":56.75,"b":29.5,"v":7.08},{"a":57.25,"b":29.5,"v":7.09},{"a":57.75,"b":29.5,"v":7.10},{"a":58.25,"b":29.5,"v":7.11},{"a":58.75,"b":29.5,"v":7.11},{"a":59.25,"b":29.5,"v":7.12},{"a":59.75,"b":29.5,"v":7.13},
{"a":40.25,"b":29.75,"v":5.98},{"a":40.75,"b":29.75,"v":6.04},{"a":41.25,"b":29.75,"v":6.10},{"a":41.75,"b":29.75,"v":6.17},{"a":42.25,"b":29.75,"v":6.23},{"a":42.75,"b":29.75,"v":6.29},{"a":43.25,"b":29.75,"v":6.35},{"a":43.75,"b":29.75,"v":6.41},{"a":44.25,"b":29.75,"v":6.47},{"a":44.75,"b":29.75,"v":6.53},{"a":45.25,"b":29.75,"v":6.58},{"a":45.75,"b":29.75,"v":6.63},{"a":46.25,"b":29.75,"v":6.69},{"a":46.75,"b":29.75,"v":6.73},{"a":47.25,"b":29.75,"v":6.77},{"a":47.75,"b":29.75,"v":6.82},{"a":48.25,"b":29.75,"v":6.86},{"a":48.75,"b":29.75,"v":6.90},{"a":49.25,"b":29.75,"v":6.93},{"a":49.75,"b":29.75,"v":6.96},{"a":50.25,"b":29.75,"v":7.00},{"a":50.75,"b":29.75,"v":7.01},{"a":51.25,"b":29.75,"v":7.01},{"a":51.75,"b":29.75,"v":7.02},{"a":52.25,"b":29.75,"v":7.03},{"a":52.75,"b":29.75,"v":7.04},{"a":53.25,"b":29.75,"v":7.04},{"a":53.75,"b":29.75,"v":7.05},{"a":54.25,"b":29.75,"v":7.06},{"a":54.75,"b":29.75,"v":7.07},{"a":55.25,"b":29.75,"v":7.07},{"a":55.75,"b":29.75,"v":7.08},{"a":56.25,"b":29.75,"v":7.09},{"a":56.75,"b":29.75,"v":7.09},{"a":57.25,"b":29.75,"v":7.10},{"a":57.75,"b":29.75,"v":7.11},{"a":58.25,"b":29.75,"v":7.12},{"a":58.75,"b":29.75,"v":7.12},{"a":59.25,"b":29.75,"v":7.13},{"a":59.75,"b":29.75,"v":7.14},
{"a":40.25,"b":30,"v":6.03},{"a":40.75,"b":30,"v":6.09},{"a":41.25,"b":30,"v":6.15},{"a":41.75,"b":30,"v":6.22},{"a":42.25,"b":30,"v":6.28},{"a":42.75,"b":30,"v":6.34},{"a":43.25,"b":30,"v":6.40},{"a":43.75,"b":30,"v":6.46},{"a":44.25,"b":30,"v":6.52},{"a":44.75,"b":30,"v":6.58},{"a":45.25,"b":30,"v":6.63},{"a":45.75,"b":30,"v":6.69},{"a":46.25,"b":30,"v":6.74},{"a":46.75,"b":30,"v":6.78},{"a":47.25,"b":30,"v":6.82},{"a":47.75,"b":30,"v":6.87},{"a":48.25,"b":30,"v":6.91},{"a":48.75,"b":30,"v":6.94},{"a":49.25,"b":30,"v":6.98},{"a":49.75,"b":30,"v":7.00},{"a":50.25,"b":30,"v":7.01},{"a":50.75,"b":30,"v":7.02},{"a":51.25,"b":30,"v":7.02},{"a":51.75,"b":30,"v":7.03},{"a":52.25,"b":30,"v":7.04},{"a":52.75,"b":30,"v":7.05},{"a":53.25,"b":30,"v":7.05},{"a":53.75,"b":30,"v":7.06},{"a":54.25,"b":30,"v":7.07},{"a":54.75,"b":30,"v":7.08},{"a":55.25,"b":30,"v":7.08},{"a":55.75,"b":30,"v":7.09},{"a":56.25,"b":30,"v":7.10},{"a":56.75,"b":30,"v":7.10},{"a":57.25,"b":30,"v":7.11},{"a":57.75,"b":30,"v":7.12},{"a":58.25,"b":30,"v":7.13},{"a":58.75,"b":30,"v":7.13},{"a":59.25,"b":30,"v":7.14},{"a":59.75,"b":30,"v":7.15}
          ]},
          "mark": {"type": "rect", "strokeWidth": 0.6},
          "encoding": {
            "x": {"field": "a", "type": "ordinal", "axis": null, "scale": {"paddingInner": 0, "paddingOuter": 0}},
            "y": {"field": "b", "type": "ordinal", "sort": "descending", "axis": null, "scale": {"paddingInner": 0, "paddingOuter": 0}},
            "color": {"field": "v", "type": "quantitative", "scale": {"type": "linear", "domain": [4, 5.5, 6.27, 7], "range": ["#0000ff", "#00ff00", "#ffff00", "#ff0000"], "interpolate": "rgb", "clamp": true}, "legend": null},
            "stroke": {"field": "v", "type": "quantitative", "scale": {"type": "linear", "domain": [4, 5.5, 6.27, 7], "range": ["#0000ff", "#00ff00", "#ffff00", "#ff0000"], "interpolate": "rgb", "clamp": true}, "legend": null}
          }
        },
        {
          "layer": [
            {
              "data": {"values": [
                {"level":"6","a":43.30,"b":25.00},{"level":"6","a":43.48,"b":25.35},{"level":"6","a":43.57,"b":25.70},{"level":"6","a":43.60,"b":26.15},{"level":"6","a":43.55,"b":26.60},{"level":"6","a":43.42,"b":27.00},{"level":"6","a":43.23,"b":27.30},{"level":"6","a":42.93,"b":27.75},{"level":"6","a":42.57,"b":28.10},{"level":"6","a":41.90,"b":28.73},{"level":"6","a":41.09,"b":29.38},{"level":"6","a":40.00,"b":30.00},
                {"level":"6.5","a":48.38,"b":25.00},{"level":"6.5","a":48.62,"b":25.35},{"level":"6.5","a":48.78,"b":25.70},{"level":"6.5","a":48.82,"b":26.20},{"level":"6.5","a":48.70,"b":26.60},{"level":"6.5","a":48.50,"b":27.00},{"level":"6.5","a":48.18,"b":27.44},{"level":"6.5","a":47.78,"b":27.83},{"level":"6.5","a":47.24,"b":28.15},{"level":"6.5","a":46.17,"b":28.73},{"level":"6.5","a":45.10,"b":29.38},{"level":"6.5","a":44.04,"b":30.00},
                {"level":"7","a":49.55,"b":30.00},{"level":"7","a":50.60,"b":29.65},{"level":"7","a":51.85,"b":29.25},{"level":"7","a":53.00,"b":28.93},{"level":"7","a":54.19,"b":28.61},{"level":"7","a":55.40,"b":28.25},{"level":"7","a":56.50,"b":27.97},{"level":"7","a":57.73,"b":27.74},{"level":"7","a":59.07,"b":27.51},{"level":"7","a":60.00,"b":27.43}
              ]},
              "mark": {"type": "line", "interpolate": "catmull-rom", "color": "#000000", "opacity": 0.7, "strokeWidth": 1.4},
              "encoding": {
                "x": {"field": "a", "type": "quantitative", "scale": {"domain": [40, 60], "nice": false, "zero": false}, "axis": {"orient": "bottom", "title": "A: Current (A)", "values": [40, 45, 50, 55, 60], "format": "d", "labelPadding": 4, "titlePadding": 33}},
                "y": {"field": "b", "type": "quantitative", "scale": {"domain": [25, 30], "nice": false, "zero": false}, "axis": {"orient": "left", "title": "B: Voltage (V)", "values": [25, 26, 27, 28, 29, 30], "format": "d", "labelPadding": 4, "titlePadding": 50}},
                "detail": {"field": "level"},
                "order": {"field": "b", "type": "quantitative"}
              }
            },
            {
              "data": {"values": [
                {"level":"6","a":42.96,"b":27.75},
                {"level":"6.5","a":47.78,"b":27.83},
                {"level":"7","a":54.19,"b":28.61}
              ]},
              "layer": [
                {
                  "mark": {"type": "point", "filled": true, "color": "#ffffff", "stroke": "#808080", "strokeWidth": 0.8, "opacity": 1, "size": 121},
                  "encoding": {
                    "x": {"field": "a", "type": "quantitative"},
                    "y": {"field": "b", "type": "quantitative"},
                    "shape": {"field": "level", "type": "nominal", "scale": {"domain": ["6", "6.5", "7"], "range": ["M-0.9,-1L0.9,-1L0.9,1L-0.9,1Z", "M-1.6,-1L1.6,-1L1.6,1L-1.6,1Z", "M-0.75,-0.8L0.75,-0.8L0.75,0.8L-0.75,0.8Z"]}, "legend": null}
                  }
                },
                {
                  "mark": {"type": "text", "fontSize": 6.5, "color": "#3a4a9a", "align": "center", "baseline": "middle"},
                  "encoding": {
                    "x": {"field": "a", "type": "quantitative"},
                    "y": {"field": "b", "type": "quantitative"},
                    "text": {"field": "level"}
                  }
                }
              ]
            }
          ]
        }
      ],
      "resolve": {"scale": {"x": "independent", "y": "independent"}}
    }
  ]
}
